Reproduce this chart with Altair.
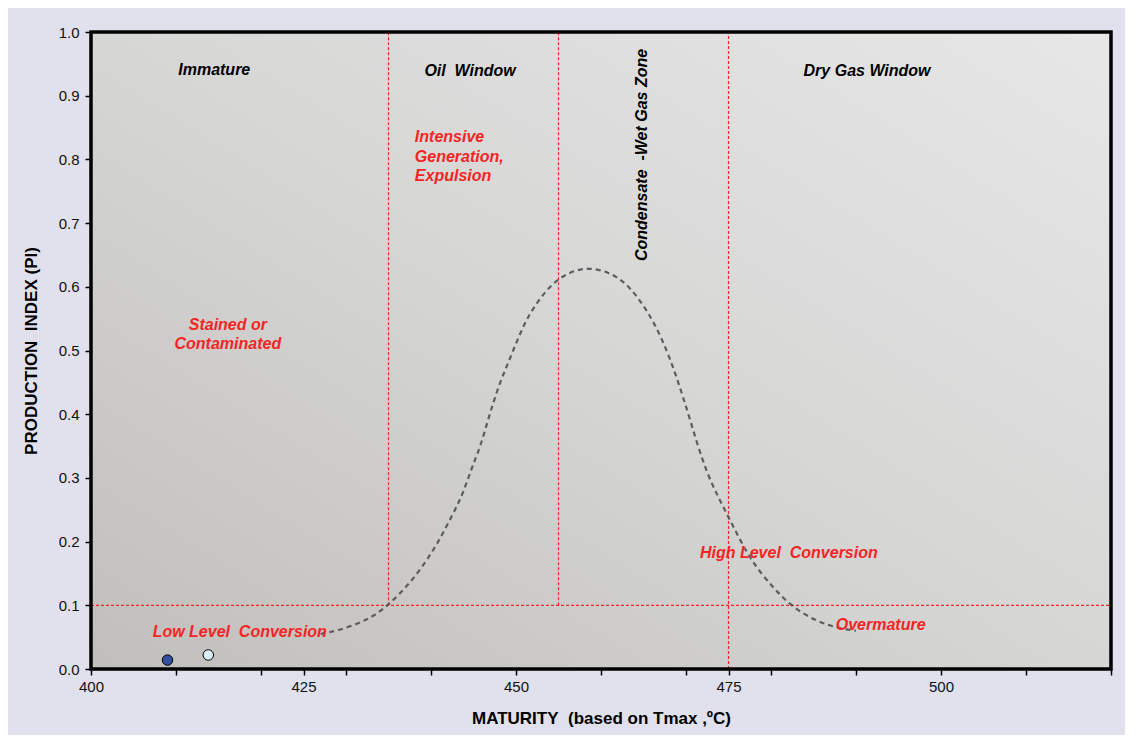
import altair as alt
import pandas as pd

# ---- data ----
curve_x = [427, 429, 431.6, 433.5, 435.2, 437.1, 438.7, 440.3, 441.4, 442.6, 443.4, 444.2,
           445.0, 445.8, 446.6, 447.3, 448.1, 448.9, 449.7, 450.5, 451.4, 452.8, 455.0,
           458.3, 461.4, 463.4, 465.4, 467.3, 468.9, 470.5, 472.4, 474.9, 477.5, 480.2,
           482.2, 485.4, 488.0, 490.0]
curve_y = [0.055, 0.060, 0.072, 0.085, 0.103, 0.129, 0.155, 0.187, 0.213, 0.244, 0.265, 0.292,
           0.323, 0.349, 0.386, 0.417, 0.449, 0.475, 0.501, 0.527, 0.553, 0.582, 0.616,
           0.633, 0.621, 0.600, 0.564, 0.516, 0.459, 0.391, 0.305, 0.242, 0.171, 0.129,
           0.100, 0.074, 0.064, 0.060]

sample_tmax = [409, 413.8]
sample_pi = [0.014, 0.022]
sample_name = ["Sample A", "Sample B"]
sample_colors = ["#34509c", "#d9f1f6"]

x_ticks = [400, 410, 420, 425, 430, 440, 450, 460, 470, 475, 480, 490, 500, 510, 520]
x_tick_labels = [400, 425, 450, 475, 500]
y_ticks = [0.0, 0.1, 0.2, 0.3, 0.4, 0.5, 0.6, 0.7, 0.8, 0.9, 1.0]

# zone boundaries
v_line_x = [435, 455, 475]
v_line_y0 = [0.1, 0.1, 0.0]
pi_threshold = [0.1]

SP2 = "\u00a0 "  # double space kept visible in SVG

zone_text = ["Immature", "Oil" + SP2 + "Window", "Dry Gas Window"]
zone_x = [414.5, 444.6, 491.3]
zone_y = [0.94, 0.938, 0.938]

red_text = ["Stained or\nContaminated", "Low Level" + SP2 + "Conversion",
            "High Level" + SP2 + "Conversion", "Overmature"]
red_x = [416.1, 417.5, 482.1, 492.9]
red_y = [0.540, 0.058, 0.182, 0.069]

red_left_text = ["Intensive\nGeneration,\nExpulsion"]
red_left_x = [438.1]
red_left_y = [0.835]

rot_text = ["Condensate" + SP2 + "-Wet Gas Zone"]
rot_x = [464.8]
rot_y = [0.807]

FONT = "Liberation Sans"
RED = "#f52525"

xs = alt.Scale(domain=[400, 520], nice=False, zero=False)
ys = alt.Scale(domain=[0, 1], nice=False)

bg_df = pd.DataFrame({"x": [400], "x2": [520], "y": [0], "y2": [1]})
background = alt.Chart(bg_df).mark_rect(
    fill=alt.Gradient(
        gradient="linear",
        stops=[alt.GradientStop(color="#c1bfbc", offset=0),
               alt.GradientStop(color="#d6d6d5", offset=0.5),
               alt.GradientStop(color="#e7e7e7", offset=1)],
        x1=0, y1=1, x2=1, y2=0,
    )
).encode(
    x=alt.X("x:Q", scale=xs,
            axis=alt.Axis(values=x_ticks, title="MATURITY" + SP2 + "(based on Tmax ,ºC)",
                          labelExpr="indexof(" + str(x_tick_labels) + ", datum.value) >= 0 ? datum.label : ''")),
    x2="x2:Q",
    y=alt.Y("y:Q", scale=ys,
            axis=alt.Axis(values=y_ticks, format=".1f", title="PRODUCTION" + SP2 + "INDEX (PI)")),
    y2="y2:Q",
)

border = alt.Chart(bg_df).mark_rect(fillOpacity=0, stroke="black", strokeWidth=3.5).encode(
    x=alt.X("x:Q", scale=xs), x2="x2:Q", y=alt.Y("y:Q", scale=ys), y2="y2:Q")

vdf = pd.DataFrame({"x": v_line_x, "y0": v_line_y0, "y1": [1, 1, 1]})
vlines = alt.Chart(vdf).mark_rule(color=RED, strokeDash=[3, 2], strokeWidth=1.2).encode(
    x=alt.X("x:Q", scale=xs), y=alt.Y("y0:Q", scale=ys), y2="y1:Q")

hdf = pd.DataFrame({"y": pi_threshold, "x0": [400], "x1": [520]})
hline = alt.Chart(hdf).mark_rule(color=RED, strokeDash=[3, 2], strokeWidth=1.2).encode(
    y=alt.Y("y:Q", scale=ys), x=alt.X("x0:Q", scale=xs), x2="x1:Q")

cdf = pd.DataFrame({"x": curve_x, "y": curve_y})
curve = alt.Chart(cdf).mark_line(
    color="#505050", strokeDash=[5, 4], strokeWidth=2.2, interpolate="basis", opacity=0.9
).encode(x=alt.X("x:Q", scale=xs), y=alt.Y("y:Q", scale=ys))

sdf = pd.DataFrame({"x": sample_tmax, "y": sample_pi, "name": sample_name})
samples = alt.Chart(sdf).mark_point(filled=True, size=110, stroke="black", strokeWidth=1, opacity=1).encode(
    x=alt.X("x:Q", scale=xs), y=alt.Y("y:Q", scale=ys),
    fill=alt.Fill("name:N", scale=alt.Scale(domain=sample_name, range=sample_colors), legend=None),
)

zdf = pd.DataFrame({"x": zone_x, "y": zone_y, "t": zone_text})
zones = alt.Chart(zdf).mark_text(font=FONT, fontSize=16, fontWeight="bold", fontStyle="italic",
                                 color="black", align="center", baseline="middle").encode(
    x=alt.X("x:Q", scale=xs), y=alt.Y("y:Q", scale=ys), text="t:N")

rdf = pd.DataFrame({"x": red_x, "y": red_y, "t": red_text})
reds = alt.Chart(rdf).mark_text(font=FONT, fontSize=16, fontWeight="bold", fontStyle="italic",
                                color=RED, align="center", baseline="middle",
                                lineBreak="\n", lineHeight=19).encode(
    x=alt.X("x:Q", scale=xs), y=alt.Y("y:Q", scale=ys), text="t:N")

rldf = pd.DataFrame({"x": red_left_x, "y": red_left_y, "t": red_left_text})
reds_left = alt.Chart(rldf).mark_text(font=FONT, fontSize=16, fontWeight="bold", fontStyle="italic",
                                      color=RED, align="left", baseline="middle",
                                      lineBreak="\n", lineHeight=19.5).encode(
    x=alt.X("x:Q", scale=xs), y=alt.Y("y:Q", scale=ys), text="t:N")

rotdf = pd.DataFrame({"x": rot_x, "y": rot_y, "t": rot_text})
rot = alt.Chart(rotdf).mark_text(font=FONT, fontSize=16, fontWeight="bold", fontStyle="italic",
                                 color="black", align="center", baseline="middle", angle=270).encode(
    x=alt.X("x:Q", scale=xs), y=alt.Y("y:Q", scale=ys), text="t:N")

chart = alt.layer(background, vlines, hline, curve, samples, zones, reds, reds_left, rot, border).properties(
    width=1020, height=637,
    autosize=alt.AutoSizeParams(type="none"),
    padding={"left": 83, "top": 24, "right": 14, "bottom": 66},
    background="#e1e1ee",
).configure_view(
    stroke=None, strokeWidth=0
).configure_axis(
    domain=False, grid=False, tickColor="black", tickSize=6, tickWidth=1.5,
    labelFont=FONT, labelFontSize=15, labelColor="#111111",
    titleFont=FONT, titleFontSize=17, titleFontWeight="bold", titleColor="black",
).configure_axisX(
    labelPadding=4, titlePadding=16, labelFlush=False,
).configure_axisY(
    labelPadding=6, titlePadding=18,
)

chart.save("out.html", embed_options={"renderer": "svg", "actions": False})
